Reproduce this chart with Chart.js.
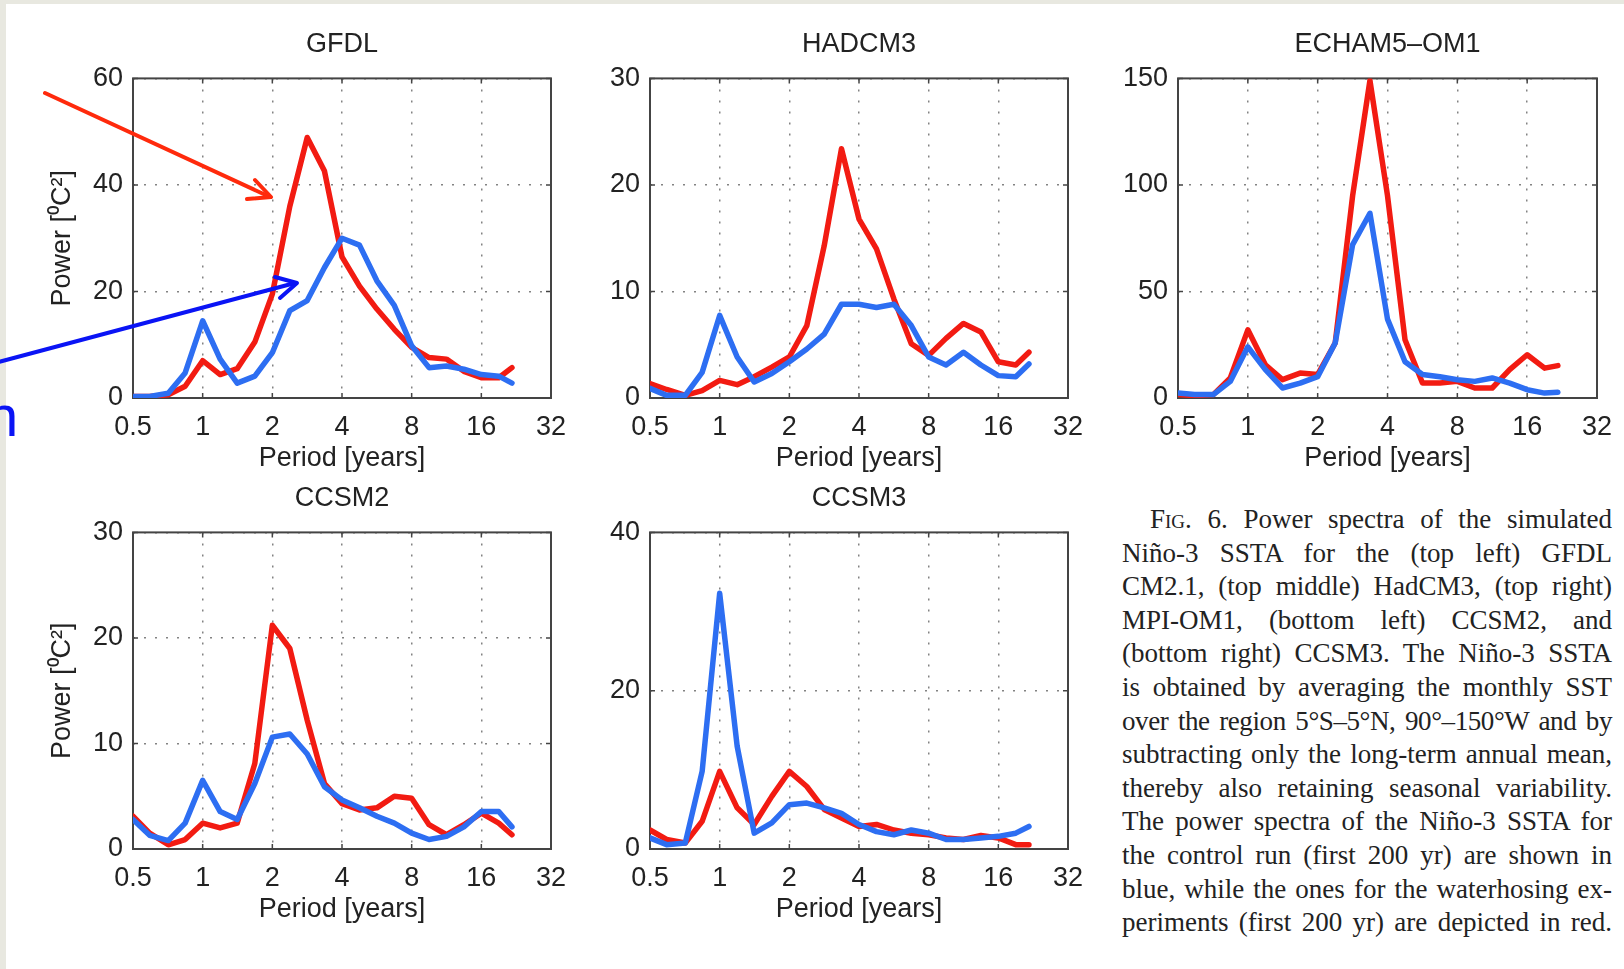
<!DOCTYPE html>
<html>
<head>
<meta charset="utf-8">
<script src="https://cdn.jsdelivr.net/npm/chart.js@4.4.0/dist/chart.umd.min.js"></script>
<style>
  html, body { margin: 0; padding: 0; background: #fff; }
  body { width: 1624px; height: 969px; position: relative; overflow: hidden; }
  .panel { position: absolute; }
  .strip { position: absolute; background: #e8e8e0; }
  #caption {
    position: absolute; left: 1122px; top: 503px; width: 490px;
    font-family: 'Liberation Serif', 'Times New Roman', serif;
    font-size: 27px; line-height: 33.6px; color: #222;
  }
  #caption div { text-align: justify; text-align-last: justify; white-space: nowrap; }
  #caption .sc { font-variant: small-caps; }
  #notes { position: absolute; left: 0; top: 0; pointer-events: none; }
</style>
</head>
<body>
<canvas id="gfdl" class="panel" width="568" height="488" style="left:13px;top:0px"></canvas>
<canvas id="hadcm3" class="panel" width="568" height="488" style="left:530px;top:0px"></canvas>
<canvas id="echam" class="panel" width="569" height="488" style="left:1058px;top:0px"></canvas>
<canvas id="ccsm2" class="panel" width="568" height="485" style="left:13px;top:454px"></canvas>
<canvas id="ccsm3" class="panel" width="568" height="485" style="left:530px;top:454px"></canvas>

<div id="caption">
  <div style="padding-left:28px"><span class="sc">Fig</span>. 6. Power spectra of the simulated</div>
  <div>Niño-3 SSTA for the (top left) GFDL</div>
  <div>CM2.1, (top middle) HadCM3, (top right)</div>
  <div>MPI-OM1, (bottom left) CCSM2, and</div>
  <div>(bottom right) CCSM3. The Niño-3 SSTA</div>
  <div>is obtained by averaging the monthly SST</div>
  <div style="letter-spacing:-0.4px">over the region 5°S–5°N, 90°–150°W and by</div>
  <div>subtracting only the long-term annual mean,</div>
  <div>thereby also retaining seasonal variability.</div>
  <div>The power spectra of the Niño-3 SSTA for</div>
  <div>the control run (first 200 yr) are shown in</div>
  <div>blue, while the ones for the waterhosing ex-</div>
  <div>periments (first 200 yr) are depicted in red.</div>
</div>

<div class="strip" style="left:0;top:0;width:1624px;height:4px"></div>
<div class="strip" style="left:0;top:0;width:6px;height:969px"></div>
<svg id="notes" width="1624" height="969">
  <g stroke="#ff2a0c" stroke-width="4" fill="none" stroke-linecap="round" stroke-linejoin="round">
    <line x1="45" y1="93" x2="270" y2="197"/>
    <polyline points="255,180 271,197 247,199"/>
  </g>
  <g stroke="#0a14f5" stroke-width="4" fill="none" stroke-linecap="round" stroke-linejoin="round">
    <line x1="-5" y1="363" x2="295" y2="283"/>
    <polyline points="275,277 297,283 280,298"/>
  </g>
  <text x="-14" y="436" font-family="Liberation Sans, Arial, sans-serif" font-size="58" fill="#0a14f5">n</text>
</svg>

<script>
// Period axis (years) shared by every spectrum
const periods = [0.5, 0.59, 0.71, 0.84, 1, 1.19, 1.41, 1.68, 2, 2.38, 2.83, 3.36,
                 4, 4.76, 5.66, 6.73, 8, 9.51, 11.31, 13.45, 16, 19.03, 21.7];
const xTicks = [0.5, 1, 2, 4, 8, 16, 32];

// GFDL
const gfdlControl = [0.3, 0.3, 0.9, 4.7, 14.5, 7.3, 2.8, 4.1, 8.5, 16.4, 18.3, 24.5,
                     30.0, 28.7, 22.0, 17.4, 9.8, 5.7, 6.0, 5.4, 4.4, 4.1, 2.8];
const gfdlHosing = [0.3, 0.3, 0.6, 2.2, 7.0, 4.4, 5.5, 10.5, 19.5, 36.0, 48.9, 42.6,
                    26.5, 21.0, 16.7, 12.9, 9.5, 7.6, 7.3, 5.0, 3.8, 3.8, 5.7];
const gfdlTicks = [0, 20, 40, 60];

// HADCM3
const hadcm3Control = [0.9, 0.25, 0.25, 2.4, 7.75, 3.85, 1.5, 2.3, 3.4, 4.6, 6.0, 8.8,
                       8.8, 8.5, 8.8, 6.8, 3.85, 3.1, 4.3, 3.1, 2.1, 2.0, 3.2];
const hadcm3Hosing = [1.35, 0.8, 0.25, 0.7, 1.65, 1.25, 2.0, 2.9, 3.85, 6.8, 14.3, 23.4,
                      16.8, 14.0, 9.3, 5.1, 4.0, 5.6, 7.0, 6.2, 3.4, 3.1, 4.3];
const hadcm3Ticks = [0, 10, 20, 30];

// ECHAM5-OM1
const echamControl = [2.3, 1.6, 1.6, 7.8, 24, 13.3, 4.7, 7.0, 10, 25.8, 72, 86.7,
                      37, 17, 11, 10, 8.6, 7.8, 9.4, 7.0, 3.9, 2.3, 2.7];
const echamHosing = [1.6, 1.1, 1.6, 9.4, 32, 15.6, 8.6, 11.7, 11, 25.8, 95, 149,
                     95, 27.3, 7, 7, 7.8, 4.7, 4.7, 13.3, 20.3, 14, 15.2];
const echamTicks = [0, 50, 100, 150];

// CCSM2
const ccsm2Control = [2.8, 1.3, 0.8, 2.45, 6.5, 3.55, 2.8, 6.2, 10.6, 10.9, 9.0, 5.9,
                      4.65, 3.9, 3.1, 2.45, 1.5, 0.9, 1.2, 2.1, 3.55, 3.55, 2.1];
const ccsm2Hosing = [3.1, 1.5, 0.4, 0.9, 2.45, 2.0, 2.45, 8.1, 21.2, 19.0, 12.2, 6.2,
                     4.3, 3.7, 3.9, 5.0, 4.8, 2.3, 1.35, 2.3, 3.4, 2.45, 1.35];
const ccsm2Ticks = [0, 10, 20, 30];

// CCSM3
const ccsm3Control = [1.4, 0.55, 0.75, 9.8, 32.3, 13.0, 2.0, 3.3, 5.6, 5.8, 5.2, 4.5,
                      3.1, 2.2, 1.8, 2.4, 2.0, 1.2, 1.2, 1.4, 1.6, 2.0, 2.85];
const ccsm3Hosing = [2.4, 1.2, 0.75, 3.5, 9.8, 5.2, 3.1, 6.65, 9.8, 7.9, 5.0, 3.9,
                     2.85, 3.1, 2.4, 2.0, 1.8, 1.4, 1.2, 1.7, 1.4, 0.55, 0.55];
const ccsm3Ticks = [0, 20, 40];

const BLUE = '#2d6ef2';
const RED = '#f21b12';
const TEXT = '#222';
const AXIS = '#444';
const GRID = 'rgba(90, 90, 90, 0.75)';

Chart.defaults.font.family = "'Liberation Sans', Arial, Helvetica, sans-serif";
Chart.defaults.font.size = 27;
Chart.defaults.color = TEXT;

// MATLAB style box with inward ticks
const boxPlugin = {
    id: 'box',
    beforeDatasetsDraw(chart) {
        const { ctx, chartArea: a, scales: { x, y } } = chart;
        ctx.save();
        ctx.strokeStyle = AXIS;
        ctx.lineWidth = 2;
        ctx.strokeRect(a.left, a.top, a.right - a.left, a.bottom - a.top);
        ctx.lineWidth = 1.5;
        ctx.beginPath();
        x.ticks.forEach(t => {
            const px = x.getPixelForValue(t.value);
            ctx.moveTo(px, a.bottom); ctx.lineTo(px, a.bottom - 5);
            ctx.moveTo(px, a.top); ctx.lineTo(px, a.top + 5);
        });
        y.ticks.forEach(t => {
            const py = y.getPixelForValue(t.value);
            ctx.moveTo(a.left, py); ctx.lineTo(a.left + 5, py);
            ctx.moveTo(a.right, py); ctx.lineTo(a.right - 5, py);
        });
        ctx.stroke();
        ctx.restore();
    }
};

function toPoints(values) {
    return values.map((v, i) => ({ x: periods[i], y: v }));
}

function makePanel(id, title, control, hosing, yTicks, showYTitle) {
    const lineStyle = { borderWidth: 5.5, pointRadius: 0, tension: 0, fill: false,
                        borderJoinStyle: 'round', borderCapStyle: 'round' };
    new Chart(document.getElementById(id), {
        type: 'line',
        data: {
            datasets: [
                Object.assign({ label: 'Control run', data: toPoints(control), borderColor: BLUE }, lineStyle),
                Object.assign({ label: 'Waterhosing', data: toPoints(hosing), borderColor: RED }, lineStyle)
            ]
        },
        options: {
            responsive: false,
            animation: false,
            events: [],
            layout: { padding: { right: 30 } },
            plugins: {
                legend: { display: false },
                tooltip: { enabled: false },
                title: {
                    display: true, text: title, color: TEXT, fullSize: false,
                    font: { size: 27, weight: 'normal', lineHeight: 1.2 },
                    padding: { top: 28, bottom: 18 }
                }
            },
            scales: {
                x: {
                    type: 'logarithmic', min: 0.5, max: 32,
                    afterBuildTicks: axis => { axis.ticks = xTicks.map(v => ({ value: v })); },
                    afterFit: axis => { axis.height = 90; },
                    ticks: { callback: v => String(v), padding: 13, autoSkip: false, maxRotation: 0 },
                    grid: { color: GRID, lineWidth: 1.5, drawTicks: false },
                    border: { display: false, dash: [2, 9] },
                    title: { display: true, text: 'Period [years]', padding: { top: 0, bottom: 13 } }
                },
                y: {
                    min: 0, max: yTicks[yTicks.length - 1],
                    afterBuildTicks: axis => { axis.ticks = yTicks.map(v => ({ value: v })); },
                    afterFit: axis => { axis.width = 120; },
                    ticks: { padding: 10 },
                    grid: { color: GRID, lineWidth: 1.5, drawTicks: false },
                    border: { display: false, dash: [2, 9] },
                    title: { display: showYTitle, text: 'Power [⁰C²]', padding: { top: 33, bottom: 0 } }
                }
            }
        },
        plugins: [boxPlugin]
    });
}

makePanel('gfdl', 'GFDL', gfdlControl, gfdlHosing, gfdlTicks, true);
makePanel('hadcm3', 'HADCM3', hadcm3Control, hadcm3Hosing, hadcm3Ticks, false);
makePanel('echam', 'ECHAM5–OM1', echamControl, echamHosing, echamTicks, false);
makePanel('ccsm2', 'CCSM2', ccsm2Control, ccsm2Hosing, ccsm2Ticks, true);
makePanel('ccsm3', 'CCSM3', ccsm3Control, ccsm3Hosing, ccsm3Ticks, false);
</script>
</body>
</html>
